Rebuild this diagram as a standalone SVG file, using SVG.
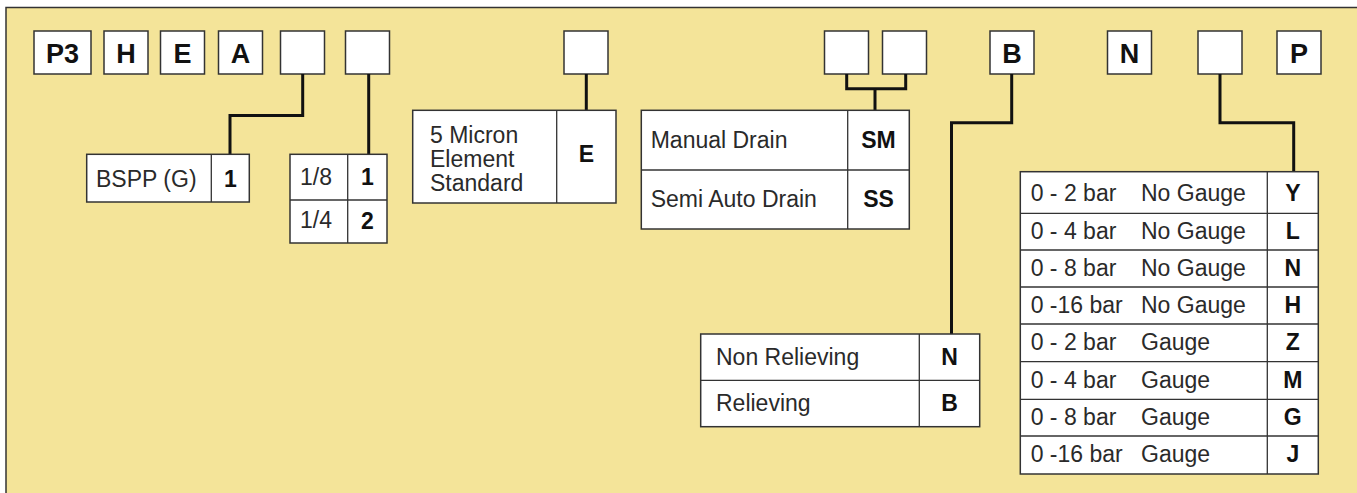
<svg xmlns="http://www.w3.org/2000/svg" width="1357" height="493" viewBox="0 0 1357 493">
<style>
.bg{fill:#F4E499;stroke:#333;stroke-width:1.5}
.bx{fill:#fff;stroke:#333;stroke-width:1.5}
.ln{fill:none;stroke:#333;stroke-width:1.3}
.cn{fill:none;stroke:#111;stroke-width:3}
.hd{font-family:"Liberation Sans",Arial,sans-serif;font-weight:bold;font-size:27px;fill:#111;text-anchor:middle}
.tx{font-family:"Liberation Sans",Arial,sans-serif;font-size:23px;fill:#2a2a2a}
.cd{font-family:"Liberation Sans",Arial,sans-serif;font-weight:bold;font-size:23px;fill:#111;text-anchor:middle}
</style>
<rect width="1357" height="493" fill="#fff"/>
<rect class="bg" x="6" y="7.5" width="1360" height="500"/>

<g id="code-boxes">
<g id="box-p3"><rect class="bx" x="34" y="31" width="57" height="43"/><text class="hd" x="62.5" y="63">P3</text></g>
<g id="box-h"><rect class="bx" x="104" y="31" width="44" height="43"/><text class="hd" x="126" y="63">H</text></g>
<g id="box-e"><rect class="bx" x="160.5" y="31" width="44" height="43"/><text class="hd" x="182.5" y="63">E</text></g>
<g id="box-a"><rect class="bx" x="218.5" y="31" width="44" height="43"/><text class="hd" x="240.5" y="63">A</text></g>
<g id="box-thread"><rect class="bx" x="280.5" y="31" width="44" height="43"/></g>
<g id="box-size"><rect class="bx" x="345.5" y="31" width="44" height="43"/></g>
<g id="box-element"><rect class="bx" x="564" y="31" width="44" height="43"/></g>
<g id="box-drain1"><rect class="bx" x="824.5" y="31" width="44" height="43"/></g>
<g id="box-drain2"><rect class="bx" x="882.5" y="31" width="44" height="43"/></g>
<g id="box-b"><rect class="bx" x="990" y="31" width="44" height="43"/><text class="hd" x="1012" y="63">B</text></g>
<g id="box-n"><rect class="bx" x="1107.5" y="31" width="44" height="43"/><text class="hd" x="1129.5" y="63">N</text></g>
<g id="box-gauge"><rect class="bx" x="1198" y="31" width="44" height="43"/></g>
<g id="box-p"><rect class="bx" x="1277" y="31" width="44" height="43"/><text class="hd" x="1299" y="63">P</text></g>
</g>

<g id="connectors">
<polyline class="cn" points="302.7,74 302.7,115.5 230,115.5 230,154"/>
<polyline class="cn" points="368.7,74 368.7,154"/>
<polyline class="cn" points="586.3,74 586.3,110"/>
<polyline class="cn" points="846.7,74 846.7,88.7 905.7,88.7 905.7,74"/>
<polyline class="cn" points="875,88.7 875,110"/>
<polyline class="cn" points="1011.7,74 1011.7,122.7 951.5,122.7 951.5,334"/>
<polyline class="cn" points="1220,74 1220,122.7 1293.7,122.7 1293.7,171.7"/>
</g>

<g id="table-thread">
<rect class="bx" x="86.7" y="154.3" width="162.6" height="47.7"/>
<line class="ln" x1="211.3" y1="154.3" x2="211.3" y2="202"/>
<text class="tx" x="96" y="187">BSPP (G)</text>
<text class="cd" x="230.3" y="186.5">1</text>
</g>

<g id="table-size">
<rect class="bx" x="290" y="154.3" width="97" height="88.7"/>
<line class="ln" x1="290" y1="200" x2="387" y2="200"/>
<line class="ln" x1="347.7" y1="154.3" x2="347.7" y2="243"/>
<text class="tx" x="300" y="185">1/8</text>
<text class="cd" x="367.3" y="184.5">1</text>
<text class="tx" x="300" y="228">1/4</text>
<text class="cd" x="367.3" y="228.5">2</text>
</g>

<g id="table-element">
<rect class="bx" x="412.7" y="110.3" width="203.3" height="92.7"/>
<line class="ln" x1="556.7" y1="110.3" x2="556.7" y2="203"/>
<text class="tx" x="430" y="143">5 Micron</text>
<text class="tx" x="430" y="167">Element</text>
<text class="tx" x="430" y="191">Standard</text>
<text class="cd" x="586.3" y="162">E</text>
</g>

<g id="table-drain">
<rect class="bx" x="641.3" y="110.3" width="268" height="118.7"/>
<line class="ln" x1="641.3" y1="170" x2="909.3" y2="170"/>
<line class="ln" x1="847.7" y1="110.3" x2="847.7" y2="229"/>
<text class="tx" x="650.7" y="148">Manual Drain</text>
<text class="cd" x="878.5" y="148">SM</text>
<text class="tx" x="650.7" y="207">Semi Auto Drain</text>
<text class="cd" x="878.5" y="207">SS</text>
</g>

<g id="table-relief">
<rect class="bx" x="700.7" y="334" width="279" height="92.7"/>
<line class="ln" x1="700.7" y1="380.3" x2="979.7" y2="380.3"/>
<line class="ln" x1="919.3" y1="334" x2="919.3" y2="426.7"/>
<text class="tx" x="716" y="365">Non Relieving</text>
<text class="cd" x="949.5" y="365">N</text>
<text class="tx" x="716" y="411">Relieving</text>
<text class="cd" x="949.5" y="411">B</text>
</g>

<g id="table-gauge">
<rect class="bx" x="1020.3" y="171.7" width="298" height="302.3"/>
<line class="ln" x1="1020.3" y1="213.3" x2="1318.3" y2="213.3"/>
<line class="ln" x1="1020.3" y1="250" x2="1318.3" y2="250"/>
<line class="ln" x1="1020.3" y1="287" x2="1318.3" y2="287"/>
<line class="ln" x1="1020.3" y1="324" x2="1318.3" y2="324"/>
<line class="ln" x1="1020.3" y1="361.7" x2="1318.3" y2="361.7"/>
<line class="ln" x1="1020.3" y1="399.3" x2="1318.3" y2="399.3"/>
<line class="ln" x1="1020.3" y1="436" x2="1318.3" y2="436"/>
<line class="ln" x1="1267.3" y1="171.7" x2="1267.3" y2="474"/>
<text class="tx" x="1030.7" y="201">0 - 2 bar</text><text class="tx" x="1141" y="201">No Gauge</text><text class="cd" x="1292.8" y="200.5">Y</text>
<text class="tx" x="1030.7" y="239">0 - 4 bar</text><text class="tx" x="1141" y="239">No Gauge</text><text class="cd" x="1292.8" y="238.5">L</text>
<text class="tx" x="1030.7" y="276">0 - 8 bar</text><text class="tx" x="1141" y="276">No Gauge</text><text class="cd" x="1292.8" y="275.5">N</text>
<text class="tx" x="1030.7" y="313">0 -16 bar</text><text class="tx" x="1141" y="313">No Gauge</text><text class="cd" x="1292.8" y="312.5">H</text>
<text class="tx" x="1030.7" y="350">0 - 2 bar</text><text class="tx" x="1141" y="350">Gauge</text><text class="cd" x="1292.8" y="350">Z</text>
<text class="tx" x="1030.7" y="388">0 - 4 bar</text><text class="tx" x="1141" y="388">Gauge</text><text class="cd" x="1292.8" y="387.5">M</text>
<text class="tx" x="1030.7" y="425">0 - 8 bar</text><text class="tx" x="1141" y="425">Gauge</text><text class="cd" x="1292.8" y="424.5">G</text>
<text class="tx" x="1030.7" y="462">0 -16 bar</text><text class="tx" x="1141" y="462">Gauge</text><text class="cd" x="1292.8" y="461.5">J</text>
</g>
</svg>
